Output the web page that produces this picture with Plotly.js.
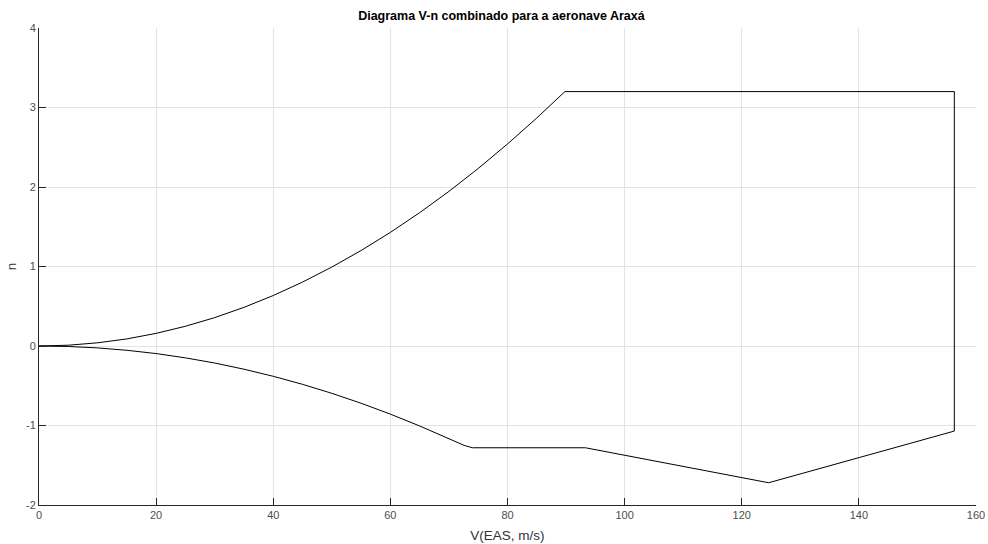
<!DOCTYPE html>
<html>
<head>
<meta charset="utf-8">
<script src="https://cdn.plot.ly/plotly-3.0.1.min.js"></script>
<style>html,body{margin:0;padding:0;background:#fff;}#chart{width:988px;height:544px;}</style>
</head>
<body>
<div id="chart"></div>
<script>
// Upper (positive) manoeuvre curve
const upperV = [0, 5, 10, 15, 20, 25, 30, 35, 40, 45, 50, 55, 60, 65, 70, 75, 80, 85, 89.8];
const upperN = [0, 0.010, 0.040, 0.089, 0.159, 0.248, 0.357, 0.486, 0.635, 0.804, 0.993, 1.201, 1.429, 1.677, 1.945, 2.233, 2.541, 2.868, 3.2];
// Right / bottom boundary (gust + dive limits)
const boundV = [156.3, 156.3, 124.6, 93.3, 74.0, 72.6];
const boundN = [3.2, -1.07, -1.72, -1.28, -1.28, -1.25];
// Lower (negative) curve back to the origin
const lowerV = [70, 65, 60, 55, 50, 45, 40, 35, 30, 25, 20, 15, 10, 5, 0];
const lowerN = [-1.166, -1.006, -0.857, -0.720, -0.595, -0.482, -0.381, -0.292, -0.214, -0.149, -0.095, -0.054, -0.024, -0.006, 0];

const xTicks = [0, 20, 40, 60, 80, 100, 120, 140, 160];
const yTicks = [-2, -1, 0, 1, 2, 3, 4];

const xs = upperV.concat(boundV, lowerV);
const ys = upperN.concat(boundN, lowerN);

const font = 'Liberation Sans, Arial, Helvetica, sans-serif';
const trace = {
  x: xs, y: ys, mode: 'lines', type: 'scatter',
  line: {color: '#000000', width: 1},
  hoverinfo: 'skip'
};
const axisCommon = {
  showline: true, linecolor: '#262626', linewidth: 1,
  showgrid: true, gridcolor: '#e3e3e3', gridwidth: 1,
  zeroline: false, ticks: 'inside', tickcolor: '#262626', ticklen: 7, tickwidth: 1,
  tickfont: {family: font, size: 11, color: '#4d4d4d'},
  mirror: false, fixedrange: true
};
const layout = {
  width: 988, height: 544,
  margin: {l: 39, r: 12, t: 28, b: 39},
  paper_bgcolor: '#ffffff', plot_bgcolor: '#ffffff',
  showlegend: false,
  title: {text: '<b>Diagrama V-n combinado para a aeronave Araxá</b>', font: {family: font, size: 12.5, color: '#000'}, x: 0.5075, xanchor: 'center', y: 0.9706, yanchor: 'middle'},
  xaxis: Object.assign({}, axisCommon, {range: [0, 160], tickvals: xTicks, ticktext: xTicks.map(String),
    title: {text: 'V(EAS, m/s)', font: {family: font, size: 13.5, color: '#333333'}, standoff: 10}}),
  yaxis: Object.assign({}, axisCommon, {range: [-2, 4], tickvals: yTicks, ticktext: yTicks.map(String),
    title: {text: 'n', font: {family: font, size: 13.5, color: '#333333'}, standoff: 6}})
};
Plotly.newPlot('chart', [trace], layout, {staticPlot: true, displayModeBar: false});
</script>
</body>
</html>
